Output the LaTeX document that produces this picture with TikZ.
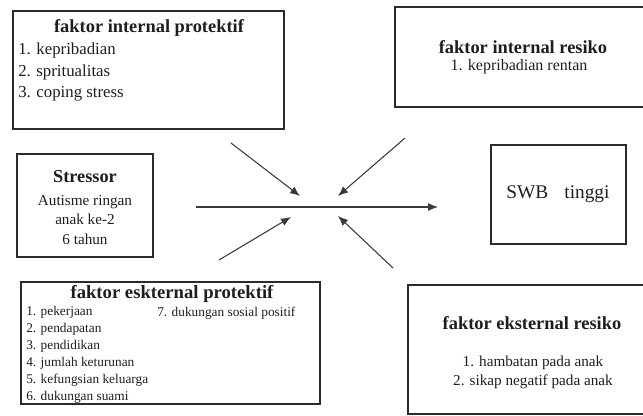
\documentclass[tikz,border=0pt]{standalone}
\usepackage{fontspec}
\setmainfont{Liberation Serif}
\usetikzlibrary{arrows.meta,fit}
\definecolor{Frame}{HTML}{2B2B2B}
\definecolor{Ink}{HTML}{1E1E1E}
\definecolor{Arrow}{HTML}{3A3A3A}

\tikzset{
  box/.style={draw=Frame,line width=1.4pt,inner sep=0pt,rectangle},
  head/.style={text=Ink,font=\bfseries\fontsize{13.8}{16}\selectfont,inner sep=0pt},
  item/.style={text=Ink,inner sep=0pt},
  flow/.style={draw=Arrow,line width=0.8pt,-{Latex[length=7.5pt,width=6pt]}}
}

\begin{document}
\begin{tikzpicture}[x=0.75pt,y=-0.75pt]
  \useasboundingbox (0,0) rectangle (643,415);
  \clip (0,0) rectangle (643,415);

  % boxes (the right ones run off the page)
  \node[box,fit={(13,11)(284,129)}] (intprot) {};
  \node[box,fit={(395,7)(650,107)}] (intres) {};
  \node[box,fit={(17,154)(153,257)}] (stressor) {};
  \node[box,fit={(491,145)(626,244)}] (swb) {};
  \node[box,fit={(21,282)(320,404)}] (ekspro) {};
  \node[box,fit={(408,285)(650,414)}] (eksres) {};

  % faktor internal protektif
  \node[head] (intprottitle) at (149,28) {faktor internal protektif};
  \node[item,anchor=west,align=left,font=\fontsize{12.6}{16.1}\selectfont] (intprotlist) at (18,72)
    {1. kepribadian\\2. spritualitas\\3. coping stress};

  % faktor internal resiko
  \node[head] (intrestitle) at (523,47) {faktor internal resiko};
  \node[item,font=\fontsize{12}{14}\selectfont] (intreslist) at (519,67) {1. kepribadian rentan};

  % stressor
  \node[head,font=\bfseries\fontsize{13.7}{16}\selectfont] (stressortitle) at (85,177) {Stressor};
  \node[item,align=center,font=\fontsize{11.4}{14.6}\selectfont] (stressorlist) at (85,220)
    {Autisme ringan\\anak ke-2\\6 tahun};

  % SWB
  \node[item,font=\fontsize{14.5}{17}\selectfont] (swbtext) at (558,194) {SWB\hspace{12pt}tinggi};

  % faktor eksternal protektif
  \node[head,font=\bfseries\fontsize{14}{16}\selectfont] (eksprotitle) at (172,294) {faktor eskternal protektif};
  \node[item,anchor=west,align=left,font=\fontsize{10}{12.75}\selectfont] (ekspromain) at (26,355)
    {1. pekerjaan\\2. pendapatan\\3. pendidikan\\4. jumlah keturunan\\5. kefungsian keluarga\\6. dukungan suami};
  \node[item,anchor=west,font=\fontsize{10}{12.75}\selectfont] (eksproextra) at (157,313) {7. dukungan sosial positif};

  % faktor eksternal resiko
  \node[head] (eksrestitle) at (532,323) {faktor eksternal resiko};
  \node[item,align=center,font=\fontsize{11.4}{14.25}\selectfont] (eksreslist) at (533,372.5)
    {1. hambatan pada anak\\2. sikap negatif pada anak};

  % arrows
  \coordinate (mainstart) at (196,207);
  \coordinate (mainend) at (438,207);
  \coordinate (ulstart) at (231,143);
  \coordinate (ulend) at (300,196);
  \coordinate (urstart) at (405,138);
  \coordinate (urend) at (338,196);
  \coordinate (llstart) at (219,260);
  \coordinate (llend) at (291,217);
  \coordinate (lrstart) at (393,268);
  \coordinate (lrend) at (338,216);
  \draw[flow] (mainstart) -- (mainend);
  \draw[flow] (ulstart) -- (ulend);
  \draw[flow] (urstart) -- (urend);
  \draw[flow] (llstart) -- (llend);
  \draw[flow] (lrstart) -- (lrend);
\end{tikzpicture}
\end{document}
